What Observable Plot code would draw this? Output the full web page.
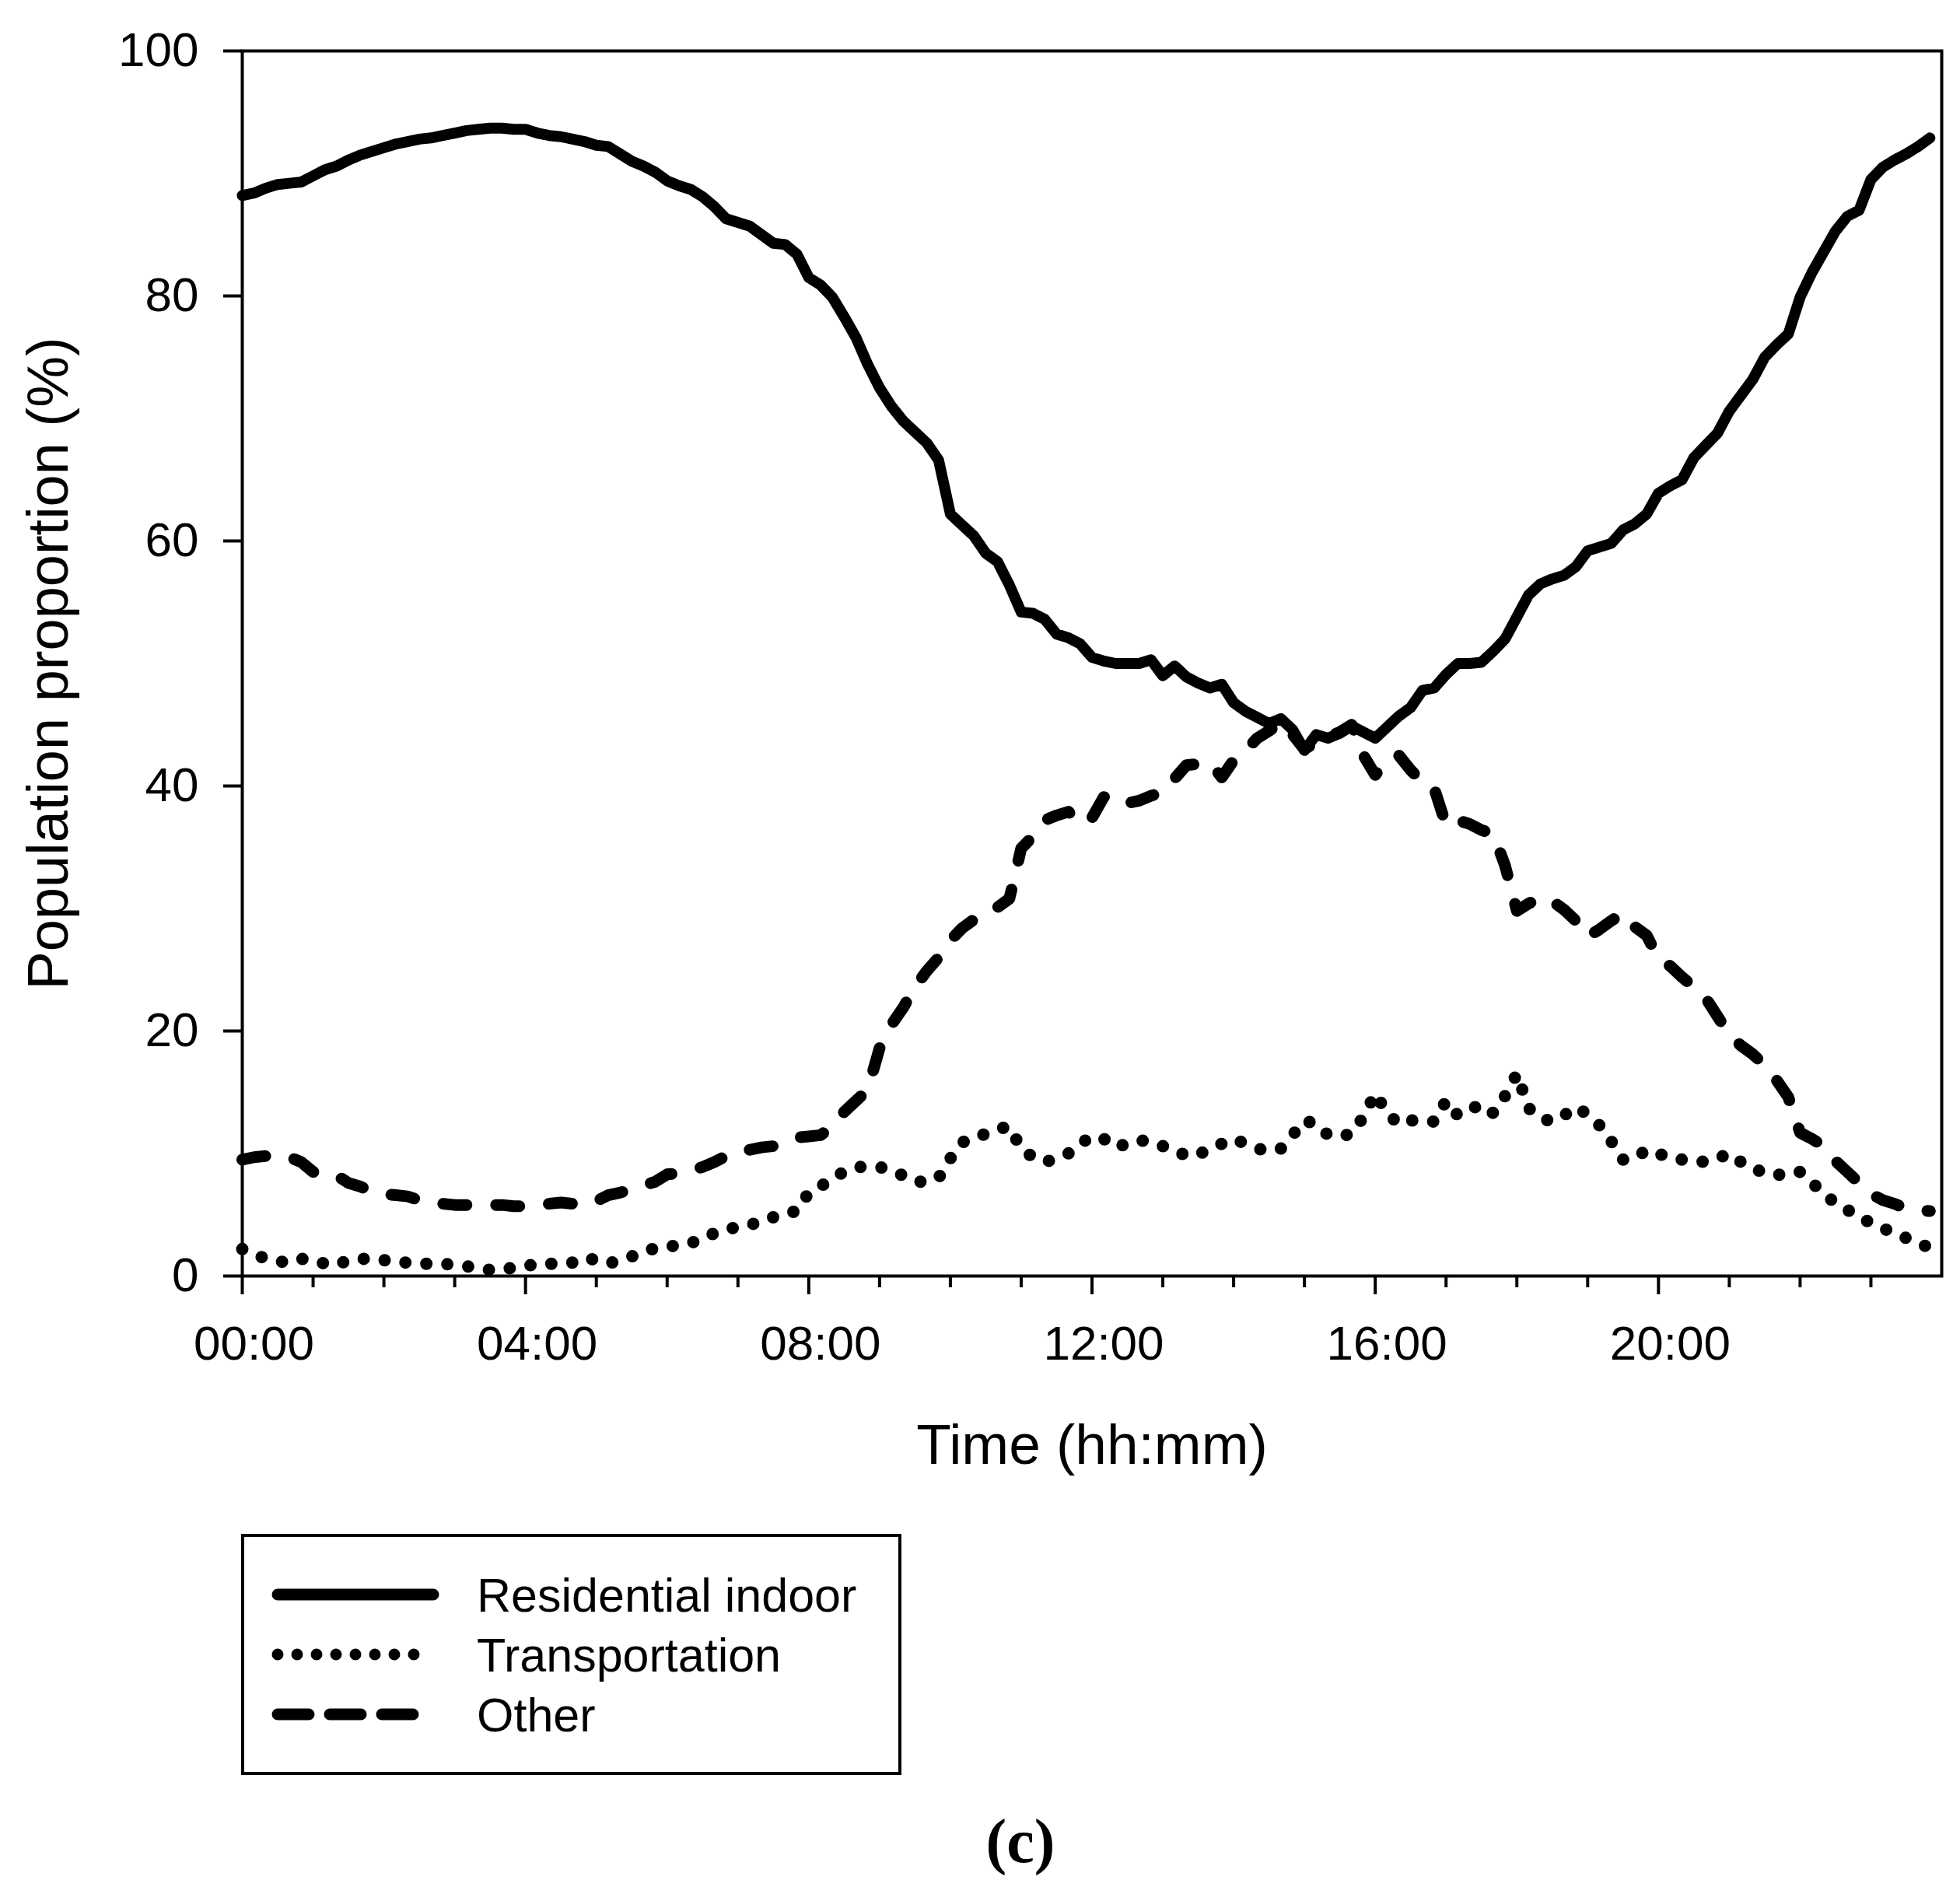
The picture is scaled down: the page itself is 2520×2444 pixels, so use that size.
<!DOCTYPE html>
<html>
<head>
<meta charset="utf-8">
<script src="https://cdn.jsdelivr.net/npm/d3@7"></script>
<script src="https://cdn.jsdelivr.net/npm/@observablehq/plot@0.6"></script>
<style>
  body { margin: 0; background: #fff; }
  #page { position: relative; width: 2520px; height: 2444px; background: #fff; }
  #chart { position: absolute; left: 0; top: 0; }
  #below { position: absolute; left: 0; top: 1920px; }
</style>
</head>
<body>
<div id="page">
  <div id="chart"></div>
  <div id="below"></div>
</div>
<script>
// values every 10 minutes, 00:00 .. 23:50 (%)
const resIndoor = [
  88.2, 88.4, 88.8, 89.1, 89.2, 89.3, 89.8, 90.3, 90.6, 91.1, 91.5, 91.8,
  92.1, 92.4, 92.6, 92.8, 92.9, 93.1, 93.3, 93.5, 93.6, 93.7, 93.7, 93.6,
  93.6, 93.3, 93.1, 93.0, 92.8, 92.6, 92.3, 92.2, 91.6, 91.0, 90.6, 90.1,
  89.4, 89.0, 88.7, 88.1, 87.3, 86.3, 86.0, 85.7, 85.0, 84.3, 84.2, 83.4,
  81.5, 80.9, 79.9, 78.3, 76.6, 74.4, 72.5, 71.0, 69.8, 68.9, 68.0, 66.6,
  62.2, 61.3, 60.4, 59.0, 58.3, 56.4, 54.2, 54.1, 53.6, 52.4, 52.1, 51.6,
  50.5, 50.2, 50.0, 50.0, 50.0, 50.3, 49.0, 49.8, 48.9, 48.4, 48.0, 48.3,
  46.8, 46.1, 45.6, 45.1, 45.5, 44.6, 42.9, 44.2, 43.9, 44.3, 44.9, 44.4,
  43.9, 44.8, 45.7, 46.4, 47.8, 48.0, 49.1, 50.0, 50.0, 50.1, 51.0, 52.0,
  53.8, 55.6, 56.5, 56.9, 57.2, 57.9, 59.2, 59.5, 59.8, 60.9, 61.4, 62.2,
  63.9, 64.5, 65.0, 66.8, 67.8, 68.8, 70.6, 71.9, 73.2, 75.0, 76.0, 76.9,
  79.9, 81.9, 83.6, 85.3, 86.5, 87.0, 89.5, 90.5, 91.1, 91.6, 92.2, 92.9
];
const transport = [
  2.2, 1.8, 1.4, 1.2, 1.1, 1.4, 1.3, 1.0, 0.9, 1.3, 1.4, 1.4,
  1.3, 1.1, 1.1, 1.0, 1.0, 1.0, 0.9, 0.8, 0.6, 0.5, 0.5, 0.7,
  0.8, 1.0, 1.0, 1.0, 1.1, 1.5, 1.3, 1.0, 1.3, 1.6, 1.9, 2.3,
  2.4, 2.5, 2.7, 3.0, 3.5, 3.8, 4.0, 4.2, 4.4, 4.8, 5.1, 5.3,
  6.8, 7.3, 8.0, 8.5, 8.9, 8.9, 8.9, 8.6, 8.2, 7.7, 7.7, 8.0,
  9.6, 10.9, 11.3, 11.6, 12.0, 12.2, 10.4, 9.7, 9.3, 9.6, 10.0, 10.8,
  11.4, 11.2, 10.5, 10.8, 11.1, 10.9, 10.6, 10.3, 9.8, 9.9, 10.4, 10.8,
  11.2, 10.8, 10.4, 10.2, 10.4, 11.5, 12.7, 12.4, 11.5, 11.4, 11.6, 13.0,
  14.9, 13.3, 12.4, 12.7, 12.7, 12.6, 14.3, 13.1, 13.6, 14.0, 13.3, 14.7,
  16.5, 13.7, 12.9, 12.6, 13.1, 13.8, 13.2, 12.3, 11.0, 9.5, 9.6, 10.3,
  10.0, 9.6, 9.5, 9.4, 9.3, 9.6, 10.0, 9.3, 8.7, 8.5, 8.2, 8.5,
  8.5, 7.6, 6.8, 5.9, 5.4, 4.9, 4.3, 3.9, 3.5, 3.1, 2.7, 2.3
];
const other = [
  9.5, 9.7, 9.8, 9.9, 9.7, 9.3, 8.5, 8.5, 8.2, 7.6, 7.3, 6.9,
  6.7, 6.6, 6.5, 6.2, 6.0, 5.9, 5.8, 5.8, 5.8, 5.8, 5.8, 5.7,
  5.7, 5.8, 5.9, 6.0, 5.9, 5.8, 6.1, 6.6, 6.8, 7.1, 7.4, 7.7,
  8.3, 8.4, 8.6, 8.9, 9.3, 9.8, 10.2, 10.3, 10.5, 10.6, 10.9, 11.3,
  11.4, 11.5, 12.2, 13.4, 14.3, 15.2, 18.6, 20.5, 21.9, 23.6, 24.9, 26.0,
  27.4, 28.4, 29.1, 29.5, 30.1, 30.8, 34.9, 35.9, 37.2, 37.6, 37.9, 36.9,
  37.4, 39.1, 39.2, 38.6, 38.8, 39.2, 39.5, 40.6, 41.7, 41.8, 41.9, 40.7,
  42.1, 42.9, 43.9, 44.5, 45.2, 44.2, 43.0, 43.6, 44.0, 44.4, 45.0, 42.5,
  40.9, 42.1, 42.5, 41.3, 40.3, 39.8, 36.8, 37.2, 36.9, 36.4, 36.1, 33.5,
  29.8, 30.4, 30.9, 30.6, 29.9, 29.0, 27.7, 28.3, 29.0, 29.6, 28.5, 27.8,
  25.9, 25.3, 24.4, 23.6, 22.7, 21.2, 19.7, 18.8, 18.1, 17.2, 16.0, 14.6,
  11.7, 11.2, 10.6, 9.4, 8.5, 7.6, 6.7, 6.2, 5.9, 5.5, 5.4, 5.3
];

const seriesNames = ["Residential indoor", "Transportation", "Other"];
const majorHours = [0, 4, 8, 12, 16, 20];
const minorHours = [1, 2, 3, 5, 6, 7, 9, 10, 11, 13, 14, 15, 17, 18, 19, 21, 22, 23];
const yTicks = [0, 20, 40, 60, 80, 100];
const stepMinutes = 10;

const toRows = (arr) => arr.map((v, i) => ({hour: i * stepMinutes / 60, value: v}));
const hhmm = (h) => String(h).padStart(2, "0") + ":00";

const font = "'Liberation Sans', Arial, sans-serif";

// line looks
const solidStyle = {stroke: "black", strokeWidth: 14, strokeLinejoin: "round", strokeLinecap: "round"};
const dotStyle = {stroke: "black", strokeWidth: 16, strokeLinecap: "round", strokeDasharray: "0 27"};
const dashStyle = {stroke: "black", strokeWidth: 15, strokeLinecap: "round", strokeLinejoin: "round", strokeDasharray: "30 38"};

let chart = Plot.plot({
  width: 2520,
  height: 1920,
  marginLeft: 311,
  marginRight: 24,
  marginTop: 65,
  marginBottom: 280,
  style: {fontFamily: font, color: "black", background: "white", overflow: "visible"},
  x: {domain: [0, 24]},
  y: {domain: [0, 100]},
  marks: [
    Plot.line(toRows(resIndoor), {x: "hour", y: "value", ...solidStyle}),
    Plot.line(toRows(transport), {x: "hour", y: "value", ...dotStyle}),
    Plot.line(toRows(other), {x: "hour", y: "value", ...dashStyle}),
    Plot.frame({stroke: "black", strokeWidth: 4}),
    // y axis
    Plot.axisY({ticks: yTicks, tickSize: 24, tickPadding: 32, strokeWidth: 4,
      fontSize: 62, tickFormat: (d) => d, label: null}),
    // x axis ticks
    Plot.axisX({ticks: majorHours, tickSize: 24, strokeWidth: 4, tickFormat: () => "", label: null}),
    Plot.axisX({ticks: minorHours, tickSize: 15, strokeWidth: 4, tickFormat: () => "", label: null}),
    Plot.axisX({ticks: majorHours, tickSize: 0, tickPadding: 63, dx: 15,
      fontSize: 62, tickFormat: hhmm, label: null}),
    // axis titles
    Plot.text(["Time (hh:mm)"], {text: (d) => d, frameAnchor: "bottom", lineAnchor: "top",
      dy: 190, fontSize: 73}),
    Plot.text(["Population proportion (%)"], {text: (d) => d, frameAnchor: "left", rotate: -90,
      textAnchor: "middle", dx: -248, fontSize: 74})
  ]
});

d3.select("#chart").append(() => chart);

// legend box + panel letter below the plot
const below = d3.select("#below").append("svg")
  .attr("width", 2520).attr("height", 524)
  .style("font-family", font);

const box = below.append("g").attr("transform", "translate(310,52)");
box.append("rect").attr("x", 2).attr("y", 2).attr("width", 845).attr("height", 306)
  .attr("fill", "white").attr("stroke", "black").attr("stroke-width", 4);

const legendStyles = [
  {dash: null},
  {dash: "0 25"},
  {dash: "40 27"}
];
seriesNames.forEach((name, i) => {
  const cy = 78 + i * 77;
  box.append("line")
    .attr("x1", 47).attr("x2", 247).attr("y1", cy).attr("y2", cy)
    .attr("stroke", "black").attr("stroke-width", 15).attr("stroke-linecap", "round")
    .attr("stroke-dasharray", legendStyles[i].dash);
  box.append("text")
    .attr("x", 303).attr("y", cy + 22)
    .attr("font-size", 61)
    .text(name);
});

below.append("text")
  .attr("x", 1312).attr("y", 474)
  .attr("text-anchor", "middle")
  .attr("font-family", "'Liberation Serif', 'Times New Roman', serif")
  .attr("font-weight", "bold")
  .attr("font-size", 80)
  .text("(c)");
</script>
</body>
</html>
